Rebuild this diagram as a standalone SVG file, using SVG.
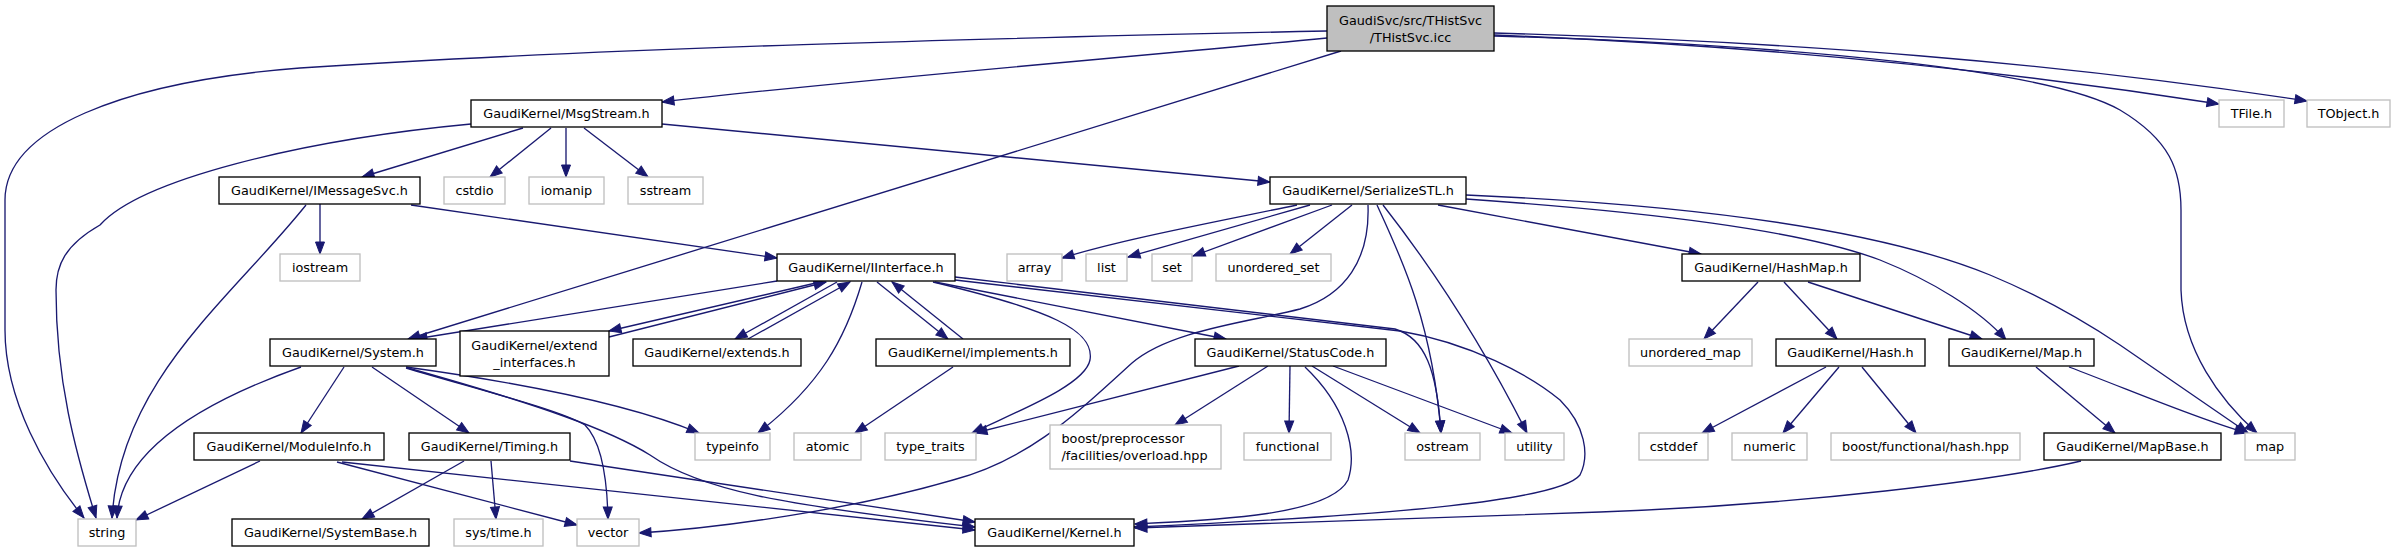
<svg xmlns="http://www.w3.org/2000/svg" width="2395" height="553" viewBox="0 0 2395 553">
<defs>
<style>
.e{fill:none;stroke:#191970;stroke-width:1.33;marker-end:url(#a)}
.n rect{fill:#fff;stroke:#000;stroke-width:1.33}
.x rect{fill:#fff;stroke:#bfbfbf;stroke-width:1.33}
.r rect{fill:#bfbfbf;stroke:#000;stroke-width:1.33}
text{font-family:"DejaVu Sans","Liberation Sans",sans-serif;font-size:12.8px;text-anchor:middle;fill:#000}
text.l{text-anchor:start}
</style>
<marker id="a" markerUnits="userSpaceOnUse" markerWidth="14" markerHeight="11" refX="12" refY="4.5" orient="auto" overflow="visible">
<path d="M0,0 L12,4.5 L0,9 z" fill="#191970" stroke="#191970" stroke-width="1"/>
</marker>
</defs>
<rect width="2395" height="553" fill="#fff"/>
<g id="edges">
<path class="e" d="M1327,38 C1100,60 850,80 662,102"/>
<path class="e" d="M1327,31 C1000,38 600,48 300,68 C120,82 5,130 5,200 L5,330 C5,400 45,470 84,518"/>
<path class="e" d="M1341,51 L408,339"/>
<path class="e" d="M1494,35 C1750,45 2000,70 2219,104"/>
<path class="e" d="M1494,33 C1800,42 2050,62 2307,101"/>
<path class="e" d="M1494,36 C1800,45 2050,70 2120,110 C2170,140 2181,170 2181,210 L2181,290 C2183,350 2220,400 2257,433"/>
<path class="e" d="M523,128 L362,177"/>
<path class="e" d="M551,128 L490,177"/>
<path class="e" d="M566,128 L566,177"/>
<path class="e" d="M584,128 L648,177"/>
<path class="e" d="M471,124 C300,140 140,180 100,225 C65,245 56,265 56,290 C56,380 75,450 96,518"/>
<path class="e" d="M662,124 L1270,182"/>
<path class="e" d="M320,204 L320,254"/>
<path class="e" d="M411,205 L777,258"/>
<path class="e" d="M306,205 C230,300 120,380 112,518"/>
<path class="e" d="M777,281 L415,339"/>
<path class="e" d="M820,282 L609,331"/>
<path class="e" d="M609,337 L826,282"/>
<path class="e" d="M837,282 L735,339"/>
<path class="e" d="M748,339 L850,282"/>
<path class="e" d="M877,282 L948,339"/>
<path class="e" d="M963,339 L892,282"/>
<path class="e" d="M862,282 C845,340 820,385 758,433"/>
<path class="e" d="M933,282 C1050,310 1095,330 1090,360 C1085,385 1020,410 972,433"/>
<path class="e" d="M935,282 L1226,339"/>
<path class="e" d="M955,277 L1395,329 C1425,338 1437,370 1441,433"/>
<path class="e" d="M955,280 L1400,331 C1470,343 1530,375 1560,400 C1585,425 1590,455 1580,475 C1560,500 1400,515 1134,527"/>
<path class="e" d="M953,367 L855,433"/>
<path class="e" d="M301,367 C180,410 120,460 117,518"/>
<path class="e" d="M344,367 L301,433"/>
<path class="e" d="M372,367 L469,433"/>
<path class="e" d="M406,367 C500,380 620,400 699,433"/>
<path class="e" d="M406,368 C480,390 560,410 585,425 C600,440 607,470 608,519"/>
<path class="e" d="M408,368 C540,405 610,430 650,455 C700,490 780,505 975,527"/>
<path class="e" d="M260,461 L136,520"/>
<path class="e" d="M337,462 L577,525"/>
<path class="e" d="M342,462 L975,530"/>
<path class="e" d="M464,461 L362,519"/>
<path class="e" d="M491,461 L496,519"/>
<path class="e" d="M570,461 L975,522"/>
<path class="e" d="M1239,366 L975,433"/>
<path class="e" d="M1268,366 L1175,425"/>
<path class="e" d="M1290,366 L1289,433"/>
<path class="e" d="M1312,366 L1420,433"/>
<path class="e" d="M1333,366 L1512,433"/>
<path class="e" d="M1305,367 C1345,405 1358,450 1348,480 C1330,515 1220,520 1135,524"/>
<path class="e" d="M1297,205 C1200,225 1120,240 1062,258"/>
<path class="e" d="M1310,205 L1128,257"/>
<path class="e" d="M1332,205 L1193,256"/>
<path class="e" d="M1352,205 L1290,254"/>
<path class="e" d="M1368,205 C1370,260 1345,295 1300,309 C1250,322 1170,330 1132,363 C1080,410 1030,460 953,480 C850,510 720,528 639,533"/>
<path class="e" d="M1377,205 C1400,255 1432,320 1441,433"/>
<path class="e" d="M1383,205 C1430,265 1480,340 1527,433"/>
<path class="e" d="M1438,205 L1701,254"/>
<path class="e" d="M1466,199 C1650,212 1800,230 1880,260 C1930,280 1980,310 2006,340"/>
<path class="e" d="M1466,195 C1700,205 1880,230 1990,275 C2050,300 2090,325 2120,345 L2248,433"/>
<path class="e" d="M1758,282 L1704,339"/>
<path class="e" d="M1784,282 L1837,339"/>
<path class="e" d="M1808,282 L1982,339"/>
<path class="e" d="M1826,367 L1702,433"/>
<path class="e" d="M1839,367 L1783,433"/>
<path class="e" d="M1862,367 L1916,433"/>
<path class="e" d="M2036,367 L2115,433"/>
<path class="e" d="M2069,367 C2130,390 2200,420 2247,433"/>
<path class="e" d="M2081,461 C2000,480 1800,505 1600,512 C1400,520 1250,525 1135,528"/>
</g>
<g id="n_thistsvc" class="r"><rect x="1327" y="6" width="167" height="45"/><text x="1410.5" y="24.9">GaudiSvc/src/THistSvc</text><text x="1410.5" y="41.5">/THistSvc.icc</text></g>
<g id="n_msgstream" class="n"><rect x="471" y="100" width="191" height="27"/><text x="566.5" y="118.2">GaudiKernel/MsgStream.h</text></g>
<g id="n_tfile" class="x"><rect x="2219" y="100" width="65" height="27"/><text x="2251.5" y="118.2">TFile.h</text></g>
<g id="n_tobject" class="x"><rect x="2307" y="100" width="83" height="27"/><text x="2348.5" y="118.2">TObject.h</text></g>
<g id="n_imessagesvc" class="n"><rect x="219" y="177" width="201" height="27"/><text x="319.5" y="195.2">GaudiKernel/IMessageSvc.h</text></g>
<g id="n_cstdio" class="x"><rect x="444" y="177" width="61" height="27"/><text x="474.5" y="195.2">cstdio</text></g>
<g id="n_iomanip" class="x"><rect x="529" y="177" width="75" height="27"/><text x="566.5" y="195.2">iomanip</text></g>
<g id="n_sstream" class="x"><rect x="628" y="177" width="75" height="27"/><text x="665.5" y="195.2">sstream</text></g>
<g id="n_serializestl" class="n"><rect x="1270" y="177" width="196" height="27"/><text x="1368" y="195.2">GaudiKernel/SerializeSTL.h</text></g>
<g id="n_iostream" class="x"><rect x="280" y="254" width="80" height="27"/><text x="320" y="272.2">iostream</text></g>
<g id="n_iinterface" class="n"><rect x="777" y="254" width="178" height="27"/><text x="866" y="272.2">GaudiKernel/IInterface.h</text></g>
<g id="n_array" class="x"><rect x="1007" y="254" width="55" height="27"/><text x="1034.5" y="272.2">array</text></g>
<g id="n_list" class="x"><rect x="1086" y="254" width="41" height="27"/><text x="1106.5" y="272.2">list</text></g>
<g id="n_set" class="x"><rect x="1152" y="254" width="40" height="27"/><text x="1172" y="272.2">set</text></g>
<g id="n_unordered_set" class="x"><rect x="1216" y="254" width="115" height="27"/><text x="1273.5" y="272.2">unordered_set</text></g>
<g id="n_hashmap" class="n"><rect x="1682" y="254" width="178" height="27"/><text x="1771" y="272.2">GaudiKernel/HashMap.h</text></g>
<g id="n_system" class="n"><rect x="270" y="339" width="166" height="27"/><text x="353" y="357.2">GaudiKernel/System.h</text></g>
<g id="n_extend_interfaces" class="n"><rect x="460" y="331" width="149" height="45"/><text x="534.5" y="349.9">GaudiKernel/extend</text><text x="534.5" y="366.5">_interfaces.h</text></g>
<g id="n_extends" class="n"><rect x="633" y="339" width="168" height="27"/><text x="717" y="357.2">GaudiKernel/extends.h</text></g>
<g id="n_implements" class="n"><rect x="876" y="339" width="194" height="27"/><text x="973" y="357.2">GaudiKernel/implements.h</text></g>
<g id="n_statuscode" class="n"><rect x="1195" y="339" width="191" height="27"/><text x="1290.5" y="357.2">GaudiKernel/StatusCode.h</text></g>
<g id="n_unordered_map" class="x"><rect x="1629" y="339" width="123" height="27"/><text x="1690.5" y="357.2">unordered_map</text></g>
<g id="n_hash" class="n"><rect x="1776" y="339" width="149" height="27"/><text x="1850.5" y="357.2">GaudiKernel/Hash.h</text></g>
<g id="n_map_h" class="n"><rect x="1949" y="339" width="145" height="27"/><text x="2021.5" y="357.2">GaudiKernel/Map.h</text></g>
<g id="n_moduleinfo" class="n"><rect x="194" y="433" width="190" height="27"/><text x="289" y="451.2">GaudiKernel/ModuleInfo.h</text></g>
<g id="n_timing" class="n"><rect x="409" y="433" width="161" height="27"/><text x="489.5" y="451.2">GaudiKernel/Timing.h</text></g>
<g id="n_typeinfo" class="x"><rect x="695" y="433" width="75" height="27"/><text x="732.5" y="451.2">typeinfo</text></g>
<g id="n_atomic" class="x"><rect x="794" y="433" width="67" height="27"/><text x="827.5" y="451.2">atomic</text></g>
<g id="n_type_traits" class="x"><rect x="885" y="433" width="91" height="27"/><text x="930.5" y="451.2">type_traits</text></g>
<g id="n_boost_pp" class="x"><rect x="1050" y="425" width="171" height="44"/><text class="l" x="1061.5" y="443.4">boost/preprocessor</text><text class="l" x="1061.5" y="460">/facilities/overload.hpp</text></g>
<g id="n_functional" class="x"><rect x="1244" y="433" width="87" height="27"/><text x="1287.5" y="451.2">functional</text></g>
<g id="n_ostream" class="x"><rect x="1405" y="433" width="75" height="27"/><text x="1442.5" y="451.2">ostream</text></g>
<g id="n_utility" class="x"><rect x="1505" y="433" width="59" height="27"/><text x="1534.5" y="451.2">utility</text></g>
<g id="n_cstddef" class="x"><rect x="1639" y="433" width="69" height="27"/><text x="1673.5" y="451.2">cstddef</text></g>
<g id="n_numeric" class="x"><rect x="1732" y="433" width="75" height="27"/><text x="1769.5" y="451.2">numeric</text></g>
<g id="n_boost_hash" class="x"><rect x="1831" y="433" width="189" height="27"/><text x="1925.5" y="451.2">boost/functional/hash.hpp</text></g>
<g id="n_mapbase" class="n"><rect x="2044" y="433" width="177" height="27"/><text x="2132.5" y="451.2">GaudiKernel/MapBase.h</text></g>
<g id="n_map" class="x"><rect x="2245" y="433" width="50" height="27"/><text x="2270" y="451.2">map</text></g>
<g id="n_string" class="x"><rect x="78" y="519" width="58" height="27"/><text x="107" y="537.2">string</text></g>
<g id="n_systembase" class="n"><rect x="232" y="519" width="197" height="27"/><text x="330.5" y="537.2">GaudiKernel/SystemBase.h</text></g>
<g id="n_systime" class="x"><rect x="454" y="519" width="89" height="27"/><text x="498.5" y="537.2">sys/time.h</text></g>
<g id="n_vector" class="x"><rect x="577" y="519" width="62" height="27"/><text x="608" y="537.2">vector</text></g>
<g id="n_kernel" class="n"><rect x="975" y="519" width="159" height="27"/><text x="1054.5" y="537.2">GaudiKernel/Kernel.h</text></g>
</svg>
